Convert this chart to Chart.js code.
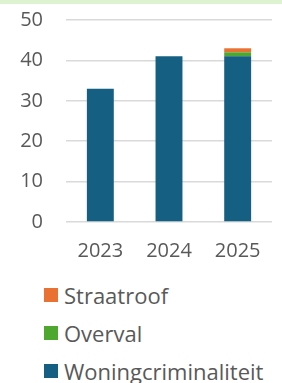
<!DOCTYPE html>
<html>
<head>
<meta charset="utf-8">
<script src="https://cdn.jsdelivr.net/npm/chart.js@4"></script>
<style>
  body { margin: 0; width: 282px; height: 383px; background: #fff; overflow: hidden; position: relative; font-family: "Open Sans", sans-serif; }
  .strip { position: absolute; left: 0; top: 0; width: 282px; height: 4px; background: #dcf2d1; }
  .wrap { position: absolute; left: 0; top: 4px; width: 282px; height: 258px; }
  .legend { position: absolute; left: 44px; top: 276px; }
  .legend .row { height: 38px; display: flex; align-items: center; color: #595959; font-size: 22px; }
  .legend .box { width: 14px; height: 14px; margin-right: 6px; }
</style>
</head>
<body>
<div class="strip"></div>
<div class="wrap"><canvas id="chart" width="282" height="258"></canvas></div>
<div class="legend" id="legend"></div>
<script>
const years = ['2023', '2024', '2025'];
const woningcriminaliteit = [33, 41, 41];
const overval = [0, 0, 1];
const straatroof = [0, 0, 1];
const yTicks = [0, 10, 20, 30, 40, 50];

const textColor = '#595959';
const gridColor = '#d9d9d9';

const datasets = [
    { label: 'Woningcriminaliteit', data: woningcriminaliteit, backgroundColor: '#156082' },
    { label: 'Overval', data: overval, backgroundColor: '#4ea72e' },
    { label: 'Straatroof', data: straatroof, backgroundColor: '#e97132' }
];
datasets.forEach(ds => {
    ds.categoryPercentage = 0.8;
    ds.barPercentage = 0.49;
});

const ctx = document.getElementById('chart').getContext('2d');
new Chart(ctx, {
    type: 'bar',
    data: { labels: years, datasets: datasets },
    options: {
        responsive: false,
        animation: false,
        layout: { padding: { top: 16, right: 10, left: 0, bottom: 0 } },
        plugins: {
            legend: { display: false },
            tooltip: { enabled: false }
        },
        scales: {
            x: {
                stacked: true,
                grid: { display: false, drawTicks: false },
                border: { display: false },
                ticks: { color: textColor, font: { family: 'Open Sans', size: 20 }, padding: 17 },
                afterFit: scale => { scale.height = 40; }
            },
            y: {
                stacked: true,
                min: 0,
                max: 50,
                afterBuildTicks: scale => { scale.ticks = yTicks.map(v => ({ value: v })); },
                // invisible tick marks push the labels away from the plot
                grid: { color: gridColor, lineWidth: 1.5, drawTicks: true, tickLength: 19, tickColor: 'rgba(0,0,0,0)' },
                border: { display: false },
                ticks: { color: textColor, font: { family: 'Open Sans', size: 20 }, padding: 4 },
                afterFit: scale => { scale.width = 66; }
            }
        }
    }
});

// legend in reverse stacking order, like the original
const legendEl = document.getElementById('legend');
datasets.slice().reverse().forEach(ds => {
    const row = document.createElement('div');
    row.className = 'row';
    row.innerHTML = `<span class="box" style="background:${ds.backgroundColor}"></span><span>${ds.label}</span>`;
    legendEl.appendChild(row);
});
</script>
</body>
</html>
